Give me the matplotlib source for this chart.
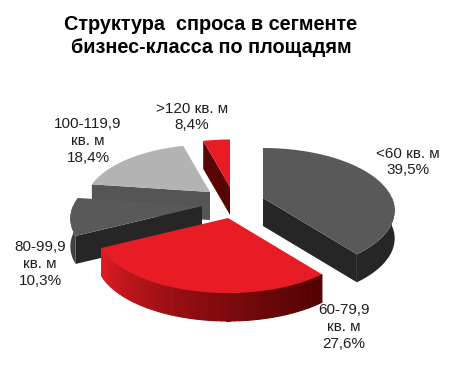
import numpy as np
from matplotlib import pyplot as plt

plt.rcParams['font.family'] = ['Liberation Sans', 'DejaVu Sans']

title = "Структура  спроса в сегменте\nбизнес-класса по площадям"
labels = ["<60 кв. м\n39,5%", "60-79,9\nкв. м\n27,6%", "80-99,9\nкв. м\n10,3%",
          "100-119,9\nкв. м\n18,4%", ">120 кв. м\n8,4%"]
# share of the circle each slice takes up in the picture (tilted 3d view, so not the label %)
shares = [39.5, 28.0, 9.7, 18.6, 4.2]
radius = [1, 1, 1, 0.95, 0.95]

top_colours = ["#595959", "#e81c24", "#595959", "#b3b3b3", "#e81c24"]
face_colours = ["#262626", "#5a0505", "#262626", "#555555", "#5a0505"]
wall_colours = ["#262626", None, "#404040", "#555555", "#5a0505"]

# apex of each slice in pixels (exploded)
apex = [(263, 198), (228, 218), (202, 206), (210, 192), (230, 187)]
label_pos = [(408, 162), (344, 327), (40, 264), (88, 141), (192, 117)]

rx, ry, k = 129, 60, 0.2
depth = 28

def project(angle, c, r):
    p = r / (1 + k * np.cos(angle))
    return c[0] + rx * np.sin(angle) * p, c[1] - ry * np.cos(angle) * p

fig = plt.figure(figsize=(4.61, 3.73), dpi=100)
ax = fig.add_axes([0, 0, 1, 1])
ax.set_xlim(0, 461)
ax.set_ylim(373, 0)
ax.axis('off')

edges = np.cumsum([0] + shares) / sum(shares) * 2 * np.pi

def red_shade(t):
    # t 0 = right end of the arc (dark), 1 = left end (bright)
    a = np.array([0x55, 0x03, 0x03]) / 255
    b = np.array([0xe0, 0x1c, 0x24]) / 255
    return a + (b - a) * t ** 1.3

for i in [4, 3, 2, 0, 1]:
    a0, a1 = edges[i], edges[i + 1]
    c = apex[i]
    r = radius[i]
    # cut faces
    if np.sin(a0) < 0:
        x, y = project(a0, c, r)
        ax.fill([c[0], x, x, c[0]], [c[1], y, y + depth, c[1] + depth], color=face_colours[i], lw=0)
    if np.sin(a1) > 0:
        x, y = project(a1, c, r)
        ax.fill([c[0], x, x, c[0]], [c[1], y, y + depth, c[1] + depth], color=face_colours[i], lw=0)
    # outer wall, only the part that faces the viewer
    lo, hi = max(a0, np.pi / 2), min(a1, 3 * np.pi / 2)
    if hi > lo:
        steps = np.linspace(lo, hi, 61)
        xs, ys = project(steps, c, r)
        if wall_colours[i] is None:
            for j in range(60):
                col = red_shade(j / 59)
                ax.fill([xs[j], xs[j + 1], xs[j + 1], xs[j]],
                        [ys[j], ys[j + 1], ys[j + 1] + depth, ys[j] + depth],
                        color=col, lw=0.8, ec=col)
        else:
            ax.fill(np.r_[xs, xs[::-1]], np.r_[ys, ys[::-1] + depth], color=wall_colours[i], lw=0)
    # top
    arc = np.linspace(a0, a1, 80)
    xs, ys = project(arc, c, r)
    ax.fill(np.r_[c[0], xs], np.r_[c[1], ys], color=top_colours[i], lw=0)

fig.text(211 / 461, 1 - 36 / 373, title, ha='center', va='center', fontsize=14.3,
         fontweight='bold', color='black', linespacing=1.25)
for lab, pos in zip(labels, label_pos):
    ax.text(pos[0], pos[1], lab, ha='center', va='center', fontsize=11, color='#1f1f1f',
            linespacing=1.25)

fig.savefig('out.png', dpi=100)
